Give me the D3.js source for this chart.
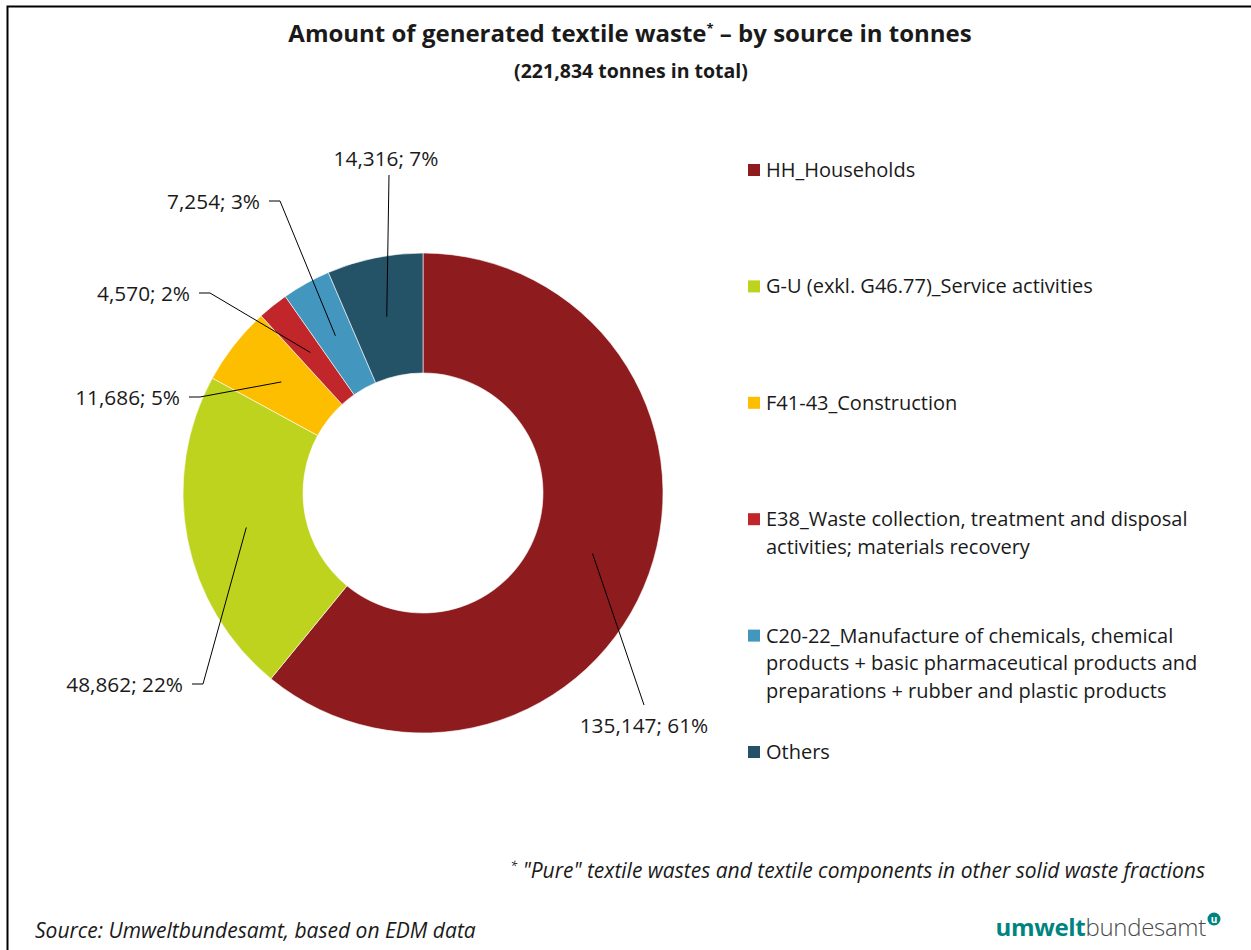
<!DOCTYPE html>
<html>
<head>
<meta charset="utf-8">
<script src="https://cdn.jsdelivr.net/npm/d3@7"></script>
<style>
  body { margin: 0; background: #fff; }
  text { font-family: "Open Sans", "Noto Sans", sans-serif; fill: #1a1a1a; }
</style>
</head>
<body>
<div id="chart"></div>
<script>
// data
var categories = [
    "HH_Households",
    "G-U (exkl. G46.77)_Service activities",
    "F41-43_Construction",
    "E38_Waste collection, treatment and disposal activities; materials recovery",
    "C20-22_Manufacture of chemicals, chemical products + basic pharmaceutical products and preparations + rubber and plastic products",
    "Others"
];
var tonnes = [135147, 48862, 11686, 4570, 7254, 14316];
var percentLabels = ["61%", "22%", "5%", "2%", "3%", "7%"];
var totalTonnes = 221834;
var colors = ["#8e1b1d", "#bed31e", "#fdbe00", "#c1272a", "#4396be", "#245266"];

// where each data label's leader line bends, relative to the pie centre
var labelKnees = [[221, 212], [-220, 191], [-223, -96], [-213, -200], [-143, -292], [-34, -318]];
var labelSides = ["below", "left", "left", "left", "left", "above"];

var width = 1251, height = 950;
var cx = 423, cy = 493;
var outerR = 240, innerR = 120;

var svg = d3.select("#chart")
    .append("svg")
    .attr("width", width)
    .attr("height", height);

// frame
svg.append("path")
    .attr("d", "M7.5," + height + "V6.5H" + width)
    .style("fill", "none")
    .style("stroke", "#000")
    .style("stroke-width", 2);

// title
var title = svg.append("text")
    .attr("x", 630)
    .attr("y", 42)
    .attr("text-anchor", "middle")
    .style("font-weight", "bold")
    .style("font-size", "24px");
title.append("tspan").text("Amount of generated textile waste");
title.append("tspan").attr("dy", -9).style("font-size", "13px").text("*");
title.append("tspan").attr("dy", 9).text(" \u2013 by source in tonnes");

svg.append("text")
    .attr("x", 631)
    .attr("y", 78)
    .attr("text-anchor", "middle")
    .style("font-weight", "bold")
    .style("font-size", "19.5px")
    .text("(" + d3.format(",")(totalTonnes) + " tonnes in total)");

// donut
var pie = d3.pie().sort(null).value(function (d) { return d; });
var arcs = pie(tonnes);
var arc = d3.arc().innerRadius(innerR).outerRadius(outerR);

var g = svg.append("g").attr("transform", "translate(" + cx + "," + cy + ")");

g.selectAll("path.slice")
    .data(arcs)
    .enter()
    .append("path")
    .attr("class", "slice")
    .attr("d", arc)
    .style("fill", function (d, i) { return colors[i]; })
    .style("stroke", "#fff")
    .style("stroke-width", 0.6);

// leader lines + labels
arcs.forEach(function (d, i) {
    var c = arc.centroid(d);
    var k = labelKnees[i];
    var side = labelSides[i];
    var txt = d3.format(",")(tonnes[i]) + "; " + percentLabels[i];
    var pts = [c, k];
    var tx, ty, anchor;
    if (side == "left") {
        pts.push([k[0] - 11, k[1]]);
        tx = k[0] - 20; ty = k[1] + 8; anchor = "end";
    } else if (side == "above") {
        tx = k[0] - 3; ty = k[1] - 9; anchor = "middle";
    } else {
        tx = k[0]; ty = k[1] + 28; anchor = "middle";
    }
    g.append("path")
        .attr("d", d3.line()(pts))
        .style("fill", "none")
        .style("stroke", "#000")
        .style("stroke-width", 1);
    g.append("text")
        .attr("x", tx)
        .attr("y", ty)
        .attr("text-anchor", anchor)
        .style("font-size", "20.8px")
        .text(txt);
});

// legend
var legendY = d3.scalePoint().domain(d3.range(categories.length)).range([170, 752]);
var legend = svg.selectAll(".legend")
    .data(categories)
    .enter()
    .append("g")
    .attr("class", "legend")
    .attr("transform", function (d, i) { return "translate(748," + legendY(i) + ")"; });

legend.append("rect")
    .attr("x", 0)
    .attr("y", -6)
    .attr("width", 12)
    .attr("height", 12)
    .style("fill", function (d, i) { return colors[i]; });

legend.each(function (d) {
    var t = d3.select(this).append("text")
        .attr("x", 18)
        .attr("y", 7)
        .style("font-size", "20px");
    var words = d.split(" "), line = [];
    var tspan = t.append("tspan").attr("x", 18).attr("dy", 0);
    words.forEach(function (w) {
        line.push(w);
        tspan.text(line.join(" "));
        if (tspan.node().getComputedTextLength() > 442 && line.length > 1) {
            line.pop();
            tspan.text(line.join(" "));
            line = [w];
            tspan = t.append("tspan").attr("x", 18).attr("dy", 27.5).text(w);
        }
    });
});

// footnote
var foot = svg.append("text")
    .attr("x", 1205)
    .attr("y", 878)
    .attr("text-anchor", "end")
    .style("font-style", "italic")
    .style("font-size", "21px");
foot.append("tspan").attr("dy", -8).style("font-size", "12px").text("*");
foot.append("tspan").attr("dy", 8).text(" \"Pure\" textile wastes and textile components in other solid waste fractions");

svg.append("text")
    .attr("x", 35)
    .attr("y", 938)
    .style("font-style", "italic")
    .style("font-size", "21px")
    .text("Source: Umweltbundesamt, based on EDM data");

// logo
var logo = svg.append("text")
    .attr("x", 1206)
    .attr("y", 936)
    .attr("text-anchor", "end")
    .style("font-size", "24px")
    .style("letter-spacing", "-0.3px");
logo.append("tspan").style("font-weight", "bold").style("fill", "#00847f").text("umwelt");
logo.append("tspan").style("fill", "#4a4a4a").style("font-weight", "300").text("bundesamt");

svg.append("circle")
    .attr("cx", 1214)
    .attr("cy", 919)
    .attr("r", 6.5)
    .style("fill", "#00847f");
svg.append("text")
    .attr("x", 1214)
    .attr("y", 922.5)
    .attr("text-anchor", "middle")
    .style("font-size", "10px")
    .style("font-weight", "bold")
    .style("fill", "#fff")
    .text("u");
</script>
</body>
</html>
